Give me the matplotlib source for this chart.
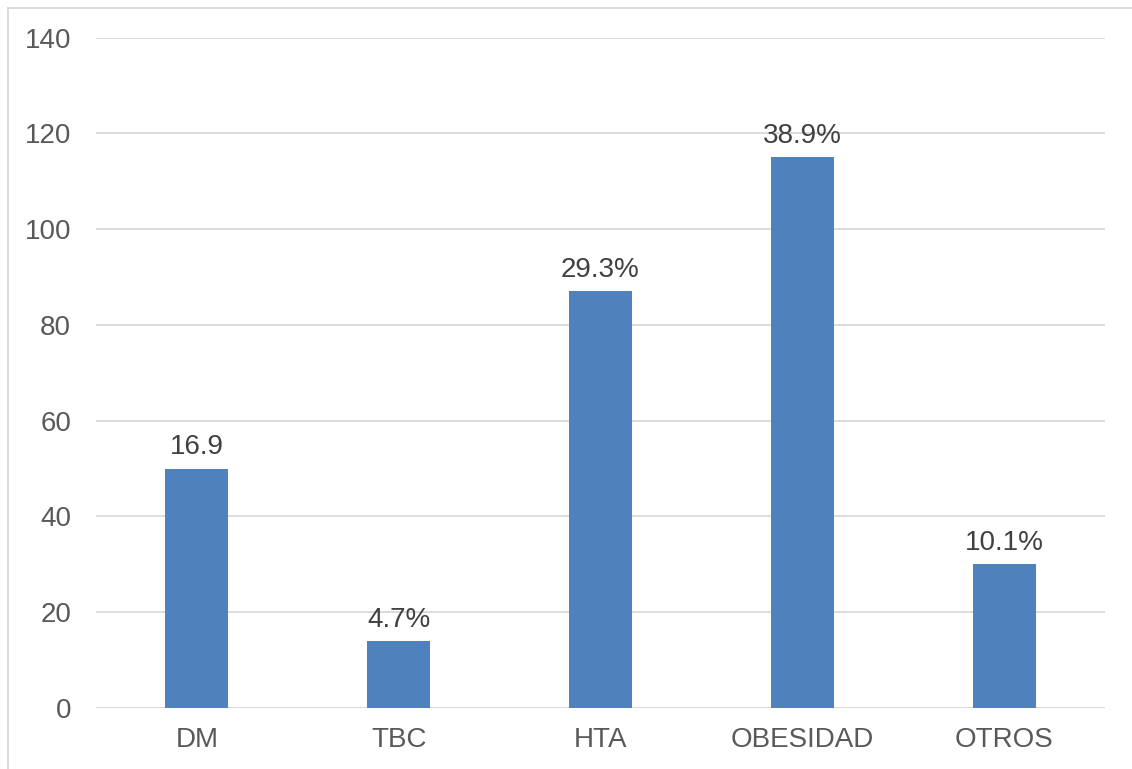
import matplotlib
matplotlib.use("Agg")
import matplotlib.pyplot as plt
from matplotlib.lines import Line2D

categories = ["DM", "TBC", "HTA", "OBESIDAD", "OTROS"]
counts = [50, 14, 87, 115, 30]
value_labels = ["16.9", "4.7%", "29.3%", "38.9%", "10.1%"]
y_ticks = [0, 20, 40, 60, 80, 100, 120, 140]

plt.rcParams["font.family"] = ["Liberation Sans", "DejaVu Sans"]

W, H = 1132, 769
fig = plt.figure(figsize=(W / 100, H / 100), dpi=100)
ax = fig.add_axes([96 / W, 1 - 708 / H, (1105 - 96) / W, (708 - 37.5) / H])

x = range(len(categories))
bars = ax.bar(x, counts, width=0.312, color="#4F81BD", zorder=3)

for rect, lab in zip(bars, value_labels):
    ax.annotate(lab, (rect.get_x() + rect.get_width() / 2, rect.get_height()),
                xytext=(0, 6), textcoords="offset points",
                ha="center", va="bottom", fontsize=20, color="#404040")

ax.set_xlim(-0.5, len(categories) - 0.5)
ax.set_ylim(0, 140)
ax.set_yticks(y_ticks)
ax.set_xticks(list(x))
ax.set_xticklabels(categories)
ax.tick_params(axis="both", length=0, labelsize=20, labelcolor="#595959")
ax.tick_params(axis="y", pad=18)
ax.tick_params(axis="x", pad=14)
ax.grid(axis="y", color="#D9D9D9", linewidth=1.3, zorder=0)
for s in ax.spines.values():
    s.set_visible(False)
ax.axhline(0, color="#D9D9D9", linewidth=1.3, zorder=2)

# Chart-area frame (extends past right and bottom edges)
fig.add_artist(Line2D([7.5 / W, 7.5 / W], [0, 1 - 8 / H], transform=fig.transFigure,
                      color="#D9D9D9", linewidth=1.3))
fig.add_artist(Line2D([7.5 / W, 1], [1 - 8 / H, 1 - 8 / H], transform=fig.transFigure,
                      color="#D9D9D9", linewidth=1.3))

fig.savefig("out.png", dpi=100, facecolor="white")
